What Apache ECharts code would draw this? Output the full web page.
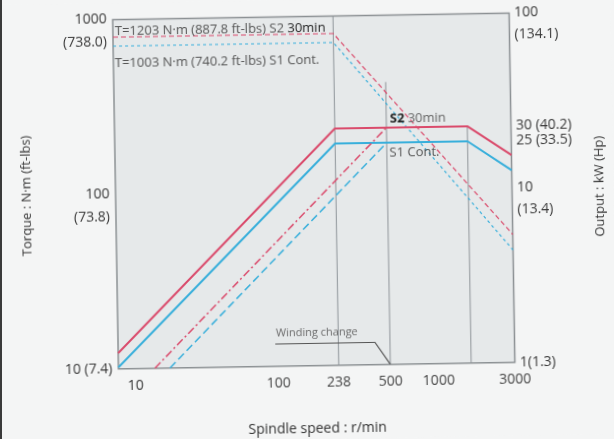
<!DOCTYPE html>
<html>
<head>
<meta charset="utf-8">
<script src="https://cdn.jsdelivr.net/npm/echarts@6/dist/echarts.min.js"></script>
<style>
  html, body { margin:0; padding:0; background:#f4f5f5; overflow:hidden; }
  #wrap { position:relative; width:614px; height:439px; }
  #c { position:absolute; left:0; top:0; width:614px; height:439px; transform:rotate(-0.95deg); transform-origin:307px 219.5px; }
  #edge { position:absolute; left:0; top:0; width:2px; height:439px; background:#3a3a3a; }
</style>
</head>
<body>
<div id="wrap"><div id="c"></div><div id="edge"></div></div>
<script>
// ---- data ----
const speedTicks = [10, 100, 238, 500, 1000, 3000];
const torqueTicks = [10, 100, 1000];
const torqueTickLabels = ['10 (7.4)', '100\n(73.8)', '1000\n(738.0)'];
const powerTicks = [1, 10, 18.6, 22.7, 100];
const powerTickLabels = ['1(1.3)', '10\n(13.4)', '25 (33.5)', '30 (40.2)', '100\n(134.1)'];

// torque (N·m) vs speed
const torqueSpeed = [10, 238, 3000];
const torqueS2 = [794, 794, 54];
const torqueS1 = [705, 705, 44];

// output (kW) vs speed, low winding
const powerLowSpeed = [10, 238, 1600, 3000];
const powerS2Low = [1.23, 22.7, 22.7, 15.4];
const powerS1Low = [1.02, 18.6, 18.6, 12.6];

// output (kW) vs speed, high winding (rising part)
const powerS2HighSpeed = [16.9, 500];
const powerS2High = [1.0, 22.7];
const powerS1HighSpeed = [21, 500];
const powerS1High = [1.0, 18.6];

// reference lines
const guide238 = [[238, 10], [238, 1000]];       // torque axis
const guide500 = [[500, 10], [500, 414]];        // torque axis
const guide1600 = [[1600, 1], [1600, 22.7]];     // power axis
const windingLeader = [[96, 13.4], [403, 13.4], [500, 10]]; // torque axis

const RED = '#da4b6c';
const CYAN = '#38afdb';
const FONT = 'Open Sans';

const zip = (xs, ys) => xs.map((x, i) => [x, ys[i]]);
function pick(v, ticks, labels) {
  for (let i = 0; i < ticks.length; i++) {
    if (Math.abs(Math.log10(v) - Math.log10(ticks[i])) < 0.004) return labels[i];
  }
  return '';
}

const chart = echarts.init(document.getElementById('c'));
const option = {
  backgroundColor: '#f4f5f5',
  animation: false,
  grid: { left: 116, right: 101.5, top: 16.5, bottom: 73.3, show: true, outerBoundsMode: 'none', containLabel: false,
          backgroundColor: '#e6e9ea', borderColor: '#8c9194', borderWidth: 1.5 },
  xAxis: {
    type: 'log', logBase: 10, min: 10, max: 3000,
    name: 'Spindle speed : r/min', nameLocation: 'middle', nameGap: 56,
    nameTextStyle: { fontFamily: FONT, fontSize: 14, color: '#333' },
    axisLine: { show: false }, axisTick: { show: false }, splitLine: { show: false },
    axisLabel: {
      customValues: speedTicks, margin: 10, fontFamily: FONT, fontSize: 14, color: '#444',
      formatter: v => { const r = Math.round(v); return r === 10 ? '{l|10}' : String(r); },
      rich: { l: { padding: [0, 0, 0, 34], fontFamily: FONT, fontSize: 14, color: '#333' } }
    }
  },
  yAxis: [
    {
      type: 'log', logBase: 10, min: 10, max: 1000, position: 'left',
      name: 'Torque : N·m (ft-lbs)', nameLocation: 'middle', nameRotate: 90, nameGap: 82,
      nameTextStyle: { fontFamily: FONT, fontSize: 13, color: '#333' },
      axisLine: { show: false }, axisTick: { show: false }, splitLine: { show: false },
      axisLabel: {
        customValues: torqueTicks, margin: 6, fontFamily: FONT, fontSize: 14, color: '#3a3a3a', lineHeight: 23,
        formatter: v => { const s = pick(v, torqueTicks, torqueTickLabels); return s.indexOf('\n') >= 0 ? ' \n' + s : s; }
      }
    },
    {
      type: 'log', logBase: 10, min: 1, max: 100, position: 'right',
      name: 'Output : kW (Hp)', nameLocation: 'middle', nameRotate: 90, nameGap: 81,
      nameTextStyle: { fontFamily: FONT, fontSize: 13, color: '#333' },
      axisLine: { show: false }, axisTick: { show: false }, splitLine: { show: false },
      axisLabel: {
        customValues: powerTicks, margin: 5, fontFamily: FONT, fontSize: 14, color: '#3a3a3a', lineHeight: 22,
        formatter: v => { const s = pick(v, powerTicks, powerTickLabels); return s.indexOf('\n') >= 0 ? ' \n' + s : s; }
      }
    }
  ],
  series: [
    { type: 'line', yAxisIndex: 0, data: guide238, symbol: 'none', lineStyle: { color: '#8f9599', width: 1 }, z: 1 },
    { type: 'line', yAxisIndex: 0, data: guide500, symbol: 'none', lineStyle: { color: '#8f9599', width: 1 }, z: 1 },
    { type: 'line', yAxisIndex: 1, data: guide1600, symbol: 'none', lineStyle: { color: '#8f9599', width: 1 }, z: 1 },
    { type: 'line', yAxisIndex: 0, data: windingLeader, symbol: 'none', lineStyle: { color: '#555', width: 1.2 }, z: 1 },
    { name: 'T S2', type: 'line', yAxisIndex: 0, data: zip(torqueSpeed, torqueS2), symbol: 'none',
      lineStyle: { color: RED, width: 1.2, type: [5, 3] }, z: 3 },
    { name: 'T S1', type: 'line', yAxisIndex: 0, data: zip(torqueSpeed, torqueS1), symbol: 'none',
      lineStyle: { color: CYAN, width: 1.2, type: [3, 3] }, z: 3 },
    { name: 'P S2 low', type: 'line', yAxisIndex: 1, data: zip(powerLowSpeed, powerS2Low), symbol: 'none',
      lineStyle: { color: RED, width: 2 }, z: 4 },
    { name: 'P S1 low', type: 'line', yAxisIndex: 1, data: zip(powerLowSpeed, powerS1Low), symbol: 'none',
      lineStyle: { color: CYAN, width: 2 }, z: 4 },
    { name: 'P S2 high', type: 'line', yAxisIndex: 1, data: zip(powerS2HighSpeed, powerS2High), symbol: 'none',
      lineStyle: { color: RED, width: 1.5, type: [8, 3, 2, 3] }, z: 4 },
    { name: 'P S1 high', type: 'line', yAxisIndex: 1, data: zip(powerS1HighSpeed, powerS1High), symbol: 'none',
      lineStyle: { color: CYAN, width: 1.5, type: [8, 4] }, z: 4 }
  ],
  graphic: [
    { type: 'text', left: 118, top: 22, z: 10, style: {
      text: '{g|T=1203 N·m (887.8 ft-lbs) S2 }{d|30min}', rich: {
        g: { fontFamily: FONT, fontSize: 13, fill: '#555' }, d: { fontFamily: FONT, fontSize: 13, fill: '#222' } } } },
    { type: 'text', left: 117.5, top: 54, z: 10, style: {
      text: 'T=1003 N·m (740.2 ft-lbs) S1 Cont.', fontFamily: FONT, fontSize: 13, fill: '#555' } },
    { type: 'text', left: 391.5, top: 114, z: 10, style: {
      text: '{b|S2} {g|30min}', rich: {
        b: { fontFamily: FONT, fontSize: 13, fontWeight: 'bold', fill: '#222' },
        g: { fontFamily: FONT, fontSize: 13, fill: '#666' } } } },
    { type: 'text', left: 390.5, top: 148, z: 10, style: {
      text: 'S1 Cont.', fontFamily: FONT, fontSize: 13, fill: '#555' } },
    { type: 'text', left: 274, top: 327, z: 10, style: {
      text: 'Winding change', fontFamily: FONT, fontSize: 11, fill: '#6a6a6a' } }
  ]
};
chart.setOption(option);
</script>
</body>
</html>
